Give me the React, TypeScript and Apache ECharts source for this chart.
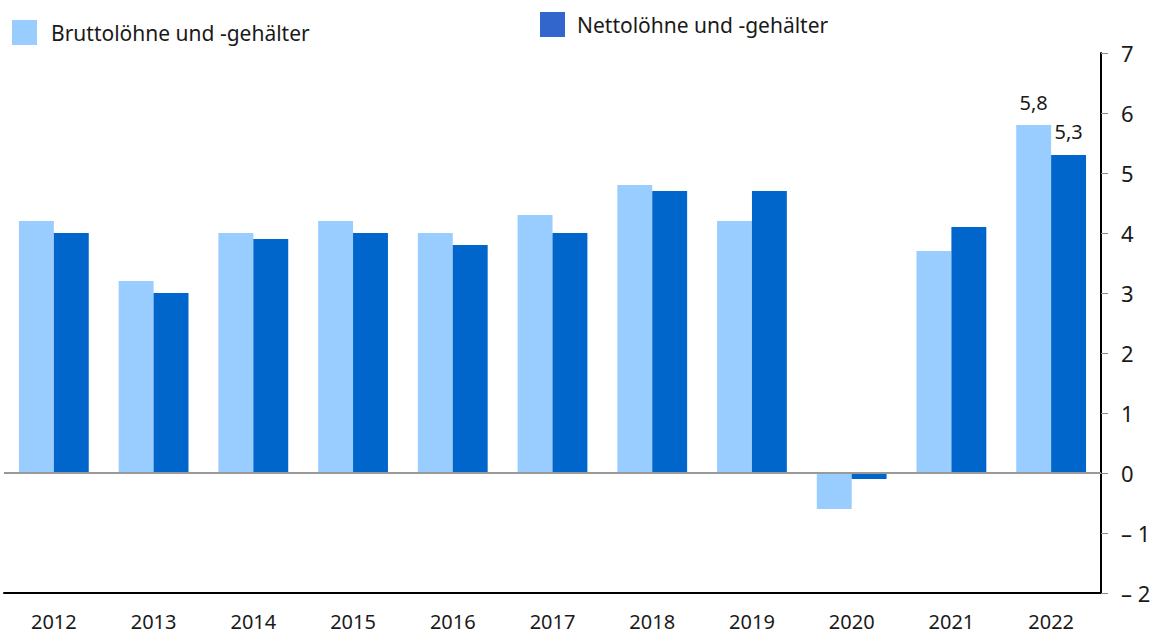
import React, { useEffect, useRef } from "react";
import * as echarts from "echarts";

const years = ["2012", "2013", "2014", "2015", "2016", "2017", "2018", "2019", "2020", "2021", "2022"];
const brutto = [4.2, 3.2, 4.0, 4.2, 4.0, 4.3, 4.8, 4.2, -0.6, 3.7, 5.8];
const netto = [4.0, 3.0, 3.9, 4.0, 3.8, 4.0, 4.7, 4.7, -0.1, 4.1, 5.3];
const nameBrutto = "Bruttolöhne und -gehälter";
const nameNetto = "Nettolöhne und -gehälter";
const labelledIndex = 10;

const FONT = "Noto Sans";

function withLabel(values: number[], distance: number) {
  return values.map((v, i) =>
    i === labelledIndex
      ? {
          value: v,
          label: {
            show: true,
            position: "top",
            distance,
            formatter: (p: any) => String(p.value).replace(".", ","),
            fontFamily: FONT,
            fontSize: 20,
            color: "#1a1a1a",
          },
        }
      : v
  );
}

export default function App() {
  const ref = useRef<HTMLDivElement>(null);
  useEffect(() => {
    const chart = echarts.init(ref.current!, undefined, { renderer: "svg" });
    chart.setOption({
      animation: false,
      textStyle: { fontFamily: FONT },
      legend: [
        {
          data: [nameBrutto],
          left: 7,
          top: 15,
          itemWidth: 25,
          itemHeight: 25,
          icon: "rect",
          textStyle: { fontSize: 21, color: "#1a1a1a", fontFamily: FONT, padding: [0, 0, 0, 9] },
          selectedMode: false,
        },
        {
          data: [{ name: nameNetto, itemStyle: { color: "#3366CC" } }],
          left: 535,
          top: 7,
          itemWidth: 25,
          itemHeight: 25,
          icon: "rect",
          textStyle: { fontSize: 21, color: "#1a1a1a", fontFamily: FONT, padding: [0, 0, 0, 7] },
          selectedMode: false,
        },
      ],
      grid: { left: 4, right: 60, top: 53, bottom: 41, containLabel: false },
      xAxis: {
        type: "category",
        data: years,
        axisLine: { onZero: false, lineStyle: { color: "#000", width: 2 } },
        axisTick: { show: false },
        axisLabel: { fontSize: 20, color: "#1a1a1a", fontFamily: FONT, margin: 18 },
      },
      yAxis: {
        type: "value",
        position: "right",
        min: -2,
        max: 7,
        interval: 1,
        splitLine: { show: false },
        axisLine: { show: true, lineStyle: { color: "#000", width: 2 } },
        axisTick: { show: true, inside: false, length: 7, lineStyle: { color: "#888", width: 1 } },
        axisLabel: {
          fontSize: 22,
          color: "#1a1a1a",
          fontFamily: FONT,
          margin: 20,
          formatter: (v: number) => (v < 0 ? "– " + Math.abs(v) : String(v)),
        },
      },
      series: [
        {
          name: nameBrutto,
          type: "bar",
          data: withLabel(brutto, 13),
          itemStyle: { color: "#99CCFF" },
          barGap: "0%",
          barCategoryGap: "30%",
        },
        {
          name: nameNetto,
          type: "bar",
          data: withLabel(netto, 14),
          itemStyle: { color: "#0066CC" },
          barGap: "0%",
          barCategoryGap: "30%",
          markLine: {
            silent: true,
            symbol: "none",
            label: { show: false },
            lineStyle: { color: "#999", width: 2, type: "solid" },
            data: [{ yAxis: 0 }],
          },
        },
      ],
    });
    return () => chart.dispose();
  }, []);
  return <div ref={ref} style={{ width: 1161, height: 634, position: "absolute", left: 0, top: 0 }} />;
}
